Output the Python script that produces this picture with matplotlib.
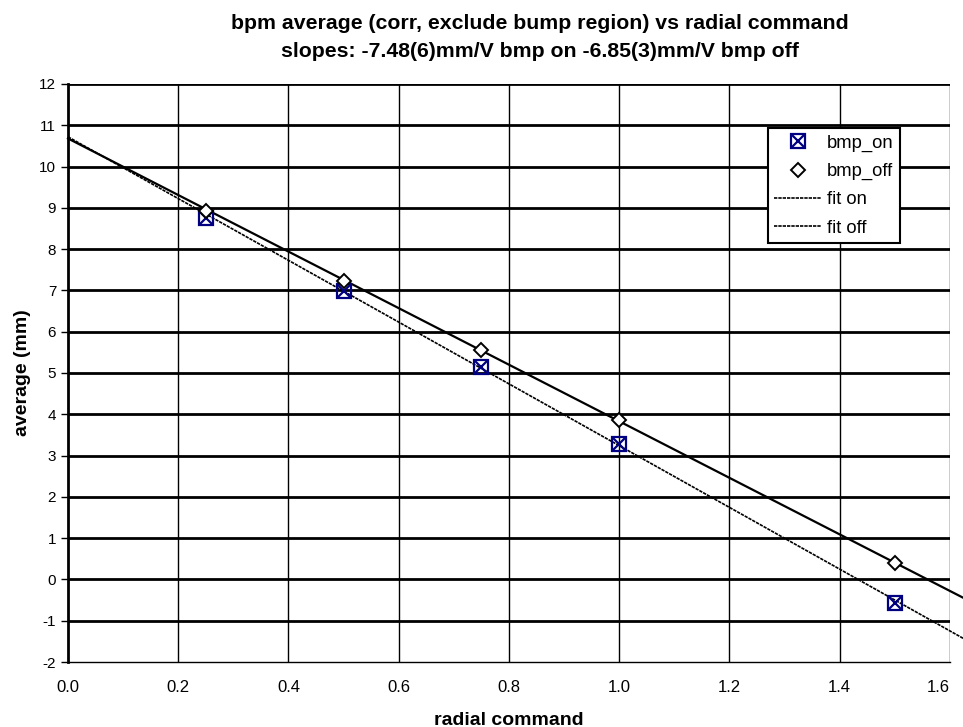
import numpy as np
import matplotlib.pyplot as plt
from matplotlib.lines import Line2D
from matplotlib.legend_handler import HandlerTuple

plt.rcParams['font.family'] = ['Liberation Sans', 'DejaVu Sans']
plt.rcParams['axes.unicode_minus'] = False

x_on = [0.25, 0.5, 0.75, 1.0, 1.5]
y_on = [8.76, 6.99, 5.15, 3.27, -0.58]
x_off = [0.25, 0.5, 0.75, 1.0, 1.5]
y_off = [8.93, 7.24, 5.56, 3.86, 0.39]

slope_on, icpt_on = -7.48, 10.72
slope_off, icpt_off = -6.85, 10.68
fit_x = [0.0, 1.635]

fig = plt.figure(figsize=(9.63, 7.27), dpi=100)
ax = fig.add_axes([0.0706, 0.0894, 0.9159, 0.7951])

ax.set_xlim(0, 1.6)
ax.set_ylim(-2, 12)
xt = np.arange(0, 1.61, 0.2)
ax.set_xticks(xt)
ax.set_xticklabels(['%.1f' % v for v in xt])
ax.set_yticks(range(-2, 13))

for yv in range(-1, 13):
    ax.axhline(yv, color='black', lw=2, zorder=1)
for xv in xt[1:]:
    ax.axvline(xv, color='black', lw=1, zorder=1)

fx = np.array(fit_x)
l_fon, = ax.plot(fx, icpt_on + slope_on * fx, color='black', lw=1.2,
                 ls=(0, (2, 0.6)), clip_on=False, zorder=2)
l_foff, = ax.plot(fx, icpt_off + slope_off * fx, color='black', lw=1.6,
                  clip_on=False, zorder=2)

h_sq, = ax.plot(x_on, y_on, ls='none', marker='s', ms=10, mfc='none',
                mec='#000080', mew=1.6, zorder=4)
h_x, = ax.plot(x_on, y_on, ls='none', marker='x', ms=8, color='#000080',
               mew=1.6, zorder=4)
h_d, = ax.plot(x_off, y_off, ls='none', marker='D', ms=7, mfc='white',
               mec='black', mew=1.4, zorder=5)

for s in ['top', 'right']:
    ax.spines[s].set_visible(False)
ax.spines['left'].set_linewidth(2)
ax.spines['bottom'].set_linewidth(1)

ax.tick_params(axis='y', direction='out', length=5, width=1, labelsize=11)
ax.tick_params(axis='x', length=0, labelsize=12, pad=13)
ax.get_xticklabels()[-1].set_horizontalalignment('right')

ax.set_xlabel('radial command', fontsize=14, fontweight='bold', labelpad=12)
ax.set_ylabel('average (mm)', fontsize=14, fontweight='bold', labelpad=6)

fig.text(0.561, 0.981, 'bpm average (corr, exclude bump region) vs radial command\n'
         'slopes: -7.48(6)mm/V bmp on -6.85(3)mm/V bmp off',
         ha='center', va='top', fontsize=15.3, fontweight='bold', linespacing=1.6)

# legend shows both fits with the same dashed sample
fit_on_h = Line2D([], [], color='black', lw=1.2, ls=(0, (2, 0.6)))
fit_off_h = Line2D([], [], color='black', lw=1.2, ls=(0, (2, 0.6)))
leg = ax.legend([(h_sq, h_x), h_d, fit_on_h, fit_off_h],
                ['bmp_on', 'bmp_off', 'fit on', 'fit off'],
                handler_map={tuple: HandlerTuple(ndivide=1)},
                loc='upper left', bbox_to_anchor=(0.7937, 0.9239),
                fontsize=13.2, frameon=True, fancybox=False, framealpha=1,
                edgecolor='black', borderpad=0.35, handlelength=2.55,
                handletextpad=0.3, labelspacing=0.62, borderaxespad=0)
leg.get_frame().set_linewidth(1.5)
leg.set_zorder(10)

fig.savefig('out.png', dpi=100)
